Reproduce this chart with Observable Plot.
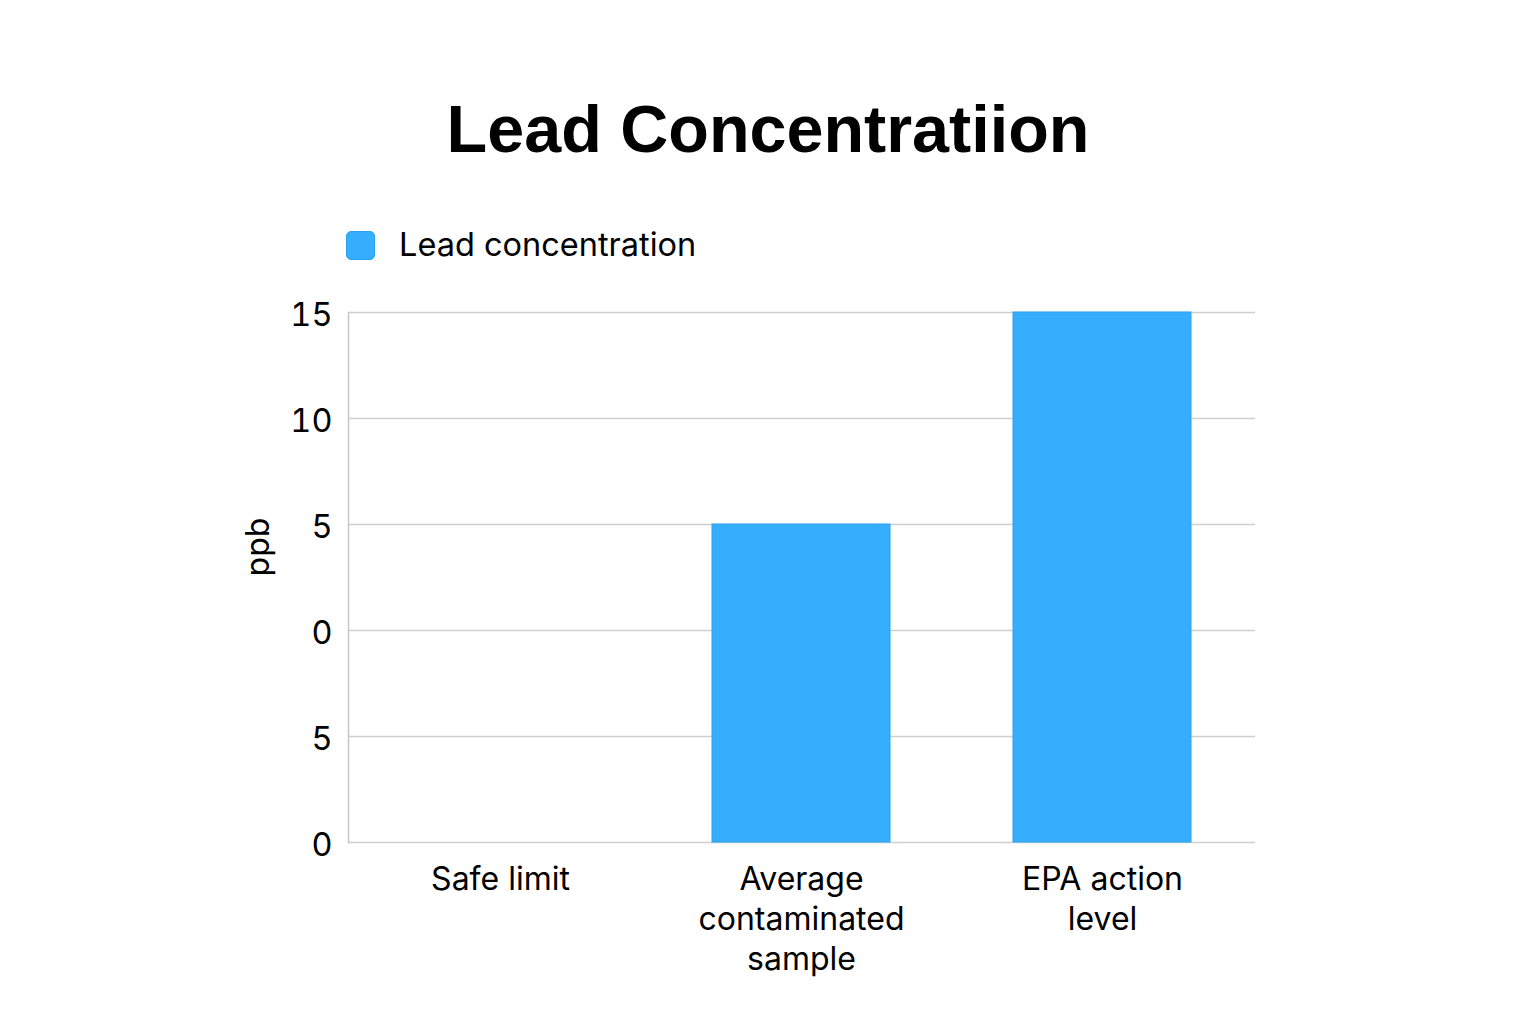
<!DOCTYPE html>
<html>
<head>
<meta charset="utf-8">
<script src="https://cdn.jsdelivr.net/npm/d3@7"></script>
<script src="https://cdn.jsdelivr.net/npm/@observablehq/plot@0.6"></script>
<style>
  html, body { margin: 0; padding: 0; background: #fff; }
  #wrap { position: relative; width: 1536px; height: 1024px; overflow: hidden; background: #fff; }
  #title { position: absolute; left: 0; width: 1536px; top: 96px; text-align: center;
    font-family: "Liberation Sans", Arial, sans-serif; font-weight: bold; font-size: 66.5px; line-height: 66px; color: #000; }
  #legend { position: absolute; left: 346px; top: 229px; height: 32px; display: flex; align-items: center;
    font-family: Inter, "Noto Sans", sans-serif; font-size: 32.5px; line-height: 32px; color: #000; }
  #legend .sw { width: 27px; height: 27px; border-radius: 5px; background: #36adfd; border: 1px solid #2aa2f3; margin-right: 24px; }
  #ylabel { position: absolute; z-index: 2; left: 258px; top: 547px; transform: translate(-50%, -50%) rotate(-90deg);
    font-family: Inter, "Noto Sans", sans-serif; font-size: 32px; line-height: 32px; color: #000; white-space: nowrap; }
  #chart { position: absolute; z-index: 1; left: 0; top: 280px; }
</style>
</head>
<body>
<div id="wrap">
  <div id="title">Lead Concentratiion</div>
  <div id="legend"><div class="sw"></div><span>Lead concentration</span></div>
  <div id="chart"></div>
  <div id="ylabel">ppb</div>
</div>
<script>
const categories = ["Safe limit", "Average\ncontaminated\nsample", "EPA action\nlevel"];
const values = [0, 9, 15];
const tickValues = [0, 3, 6, 9, 12, 15];
const tickLabels = ["0", "5", "0", "5", "10", "15"];
const seriesName = "Lead concentration";

const data = categories.map((c, i) => ({category: c, value: values[i], series: seriesName}));

const plot = Plot.plot({
  width: 1536,
  height: 744,
  marginTop: 32,
  marginBottom: 182,
  marginLeft: 348,
  marginRight: 281,
  style: {fontFamily: "Inter, 'Noto Sans', sans-serif", fontSize: "32px", color: "#000", background: "transparent"},
  x: {domain: categories, paddingInner: 0.407, paddingOuter: 0.207},
  y: {domain: [0, 15]},
  marks: [
    Plot.gridY(tickValues, {stroke: "#cfcfcf", strokeOpacity: 1, strokeWidth: 1.5}),
    Plot.barY(data, {x: "category", y: "value", fill: "#36adfd", stroke: "#2aa2f3", strokeWidth: 1}),
    Plot.frame({anchor: "left", stroke: "#c8c8c8", strokeWidth: 1.5}),
    Plot.axisY({ticks: tickValues, tickFormat: (d, i) => tickLabels[i], tickSize: 0, tickPadding: 16,
      fontSize: 32.5, dy: 3, label: null}),
    Plot.axisX({tickSize: 0, tickPadding: 19, fontSize: 32, lineHeight: 1.25, label: null})
  ]
});
document.getElementById("chart").appendChild(plot);
</script>
</body>
</html>
